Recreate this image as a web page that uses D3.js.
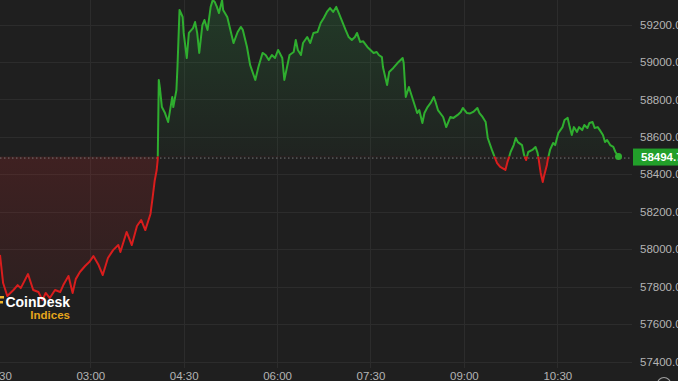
<!DOCTYPE html>
<html>
<head>
<meta charset="utf-8">
<script src="https://cdn.jsdelivr.net/npm/d3@7"></script>
<style>
  html, body { margin: 0; padding: 0; background: #1f1f1f; overflow: hidden; }
  svg { display: block; }
</style>
</head>
<body>
<svg id="chart"></svg>
<script>
// Configuration
const width = 678;
const height = 381;
const plotW = 632;

// Data (CoinDesk index, intraday)
const times = [
  "01:33","01:36","01:40","01:46","01:50","01:53","01:56","02:00","02:05","02:10",
  "02:14","02:17","02:21","02:26","02:31","02:34","02:39","02:43","02:46","02:50",
  "02:55","02:59","03:03","03:08","03:12","03:17","03:22","03:27","03:29","03:35",
  "03:40","03:45","03:49","03:53","03:58","04:00","04:02","04:04","04:05","04:06",
  "04:07","04:09","04:12","04:15","04:19","04:20","04:23","04:24","04:26","04:29",
  "04:30","04:33","04:35","04:39","04:41","04:43","04:45","04:48","04:50","04:53",
  "04:56","04:58","05:00","05:02","05:04","05:07","05:08","05:12","05:15","05:18",
  "05:22","05:25","05:27","05:31","05:34","05:39","05:42","05:46","05:49","05:52",
  "05:55","05:58","06:01","06:05","06:07","06:10","06:12","06:16","06:18","06:20",
  "06:23","06:25","06:29","06:32","06:35","06:39","06:42","06:45","06:48","06:51",
  "06:54","06:57","06:59","07:03","07:06","07:09","07:12","07:15","07:17","07:20",
  "07:23","07:27","07:30","07:33","07:36","07:38","07:41","07:42","07:46","07:48",
  "07:52","07:56","08:01","08:02","08:04","08:07","08:11","08:15","08:17","08:20",
  "08:22","08:25","08:28","08:31","08:33","08:35","08:40","08:43","08:47","08:50",
  "08:54","08:57","08:59","09:03","09:06","09:09","09:13","09:15","09:18","09:21",
  "09:23","09:27","09:30","09:32","09:35","09:40","09:42","09:43","09:45","09:48",
  "09:50","09:52","09:56","09:58","10:00","10:02","10:06","10:09","10:11","10:12",
  "10:14","10:16","10:17","10:20","10:21","10:23","10:26","10:28","10:31","10:35",
  "10:37","10:40","10:42","10:44","10:46","10:49","10:51","10:54","10:56","10:59",
  "11:01","11:04","11:06","11:09","11:11","11:14","11:16","11:18","11:21","11:24",
  "11:26","11:29"
];
const prices = [
  57969,57819,57750,57782,57808,57792,57824,57867,57782,57771,
  57728,57766,57739,57782,57771,57808,57857,57766,57840,57878,
  57910,57931,57963,57915,57862,57953,57995,58022,57985,58092,
  58022,58124,58156,58102,58188,58273,58364,58423,58480,58904,
  58866,58759,58727,58679,58813,58759,58850,58973,59278,59240,
  59155,59021,59155,59181,59213,59155,59048,59197,59224,59171,
  59294,59331,59320,59294,59261,59331,59278,59240,59171,59101,
  59160,59187,59171,59080,58984,58904,58973,59048,59037,59010,
  59037,59021,59064,59021,58904,58984,59037,59053,59117,59064,
  59037,59101,59133,59101,59155,59160,59208,59235,59267,59288,
  59267,59294,59267,59213,59171,59133,59117,59133,59155,59107,
  59110,59080,59064,59048,59053,59037,59026,58973,58877,58946,
  58968,58994,59021,58994,58813,58866,58797,58727,58743,58674,
  58727,58759,58781,58813,58781,58743,58706,58652,58706,58701,
  58717,58733,58754,58727,58725,58733,58754,58727,58706,58679,
  58594,58530,58487,58460,58439,58423,58466,58482,58519,58556,
  58594,58572,58556,58503,58476,58519,58530,58546,58514,58482,
  58407,58359,58385,58450,58482,58530,58567,58556,58620,58652,
  58690,58701,58652,58610,58652,58626,58652,58636,58663,58647,
  58674,58679,58647,58652,58636,58610,58572,58583,58556,58546,
  58519,58494.7
];
const baseValue = 58494.7;
const lastPrice = 58494.7;
const yTicks = [57400, 57600, 57800, 58000, 58200, 58400, 58600, 58800, 59000, 59200];
const xTicks = ["01:30", "03:00", "04:30", "06:00", "07:30", "09:00", "10:30"];
const xDomain = ["01:33", "11:42"];

const parseTime = d3.timeParse("%H:%M");
const data = times.map((t, i) => ({ t: parseTime(t), v: prices[i] }));

const svg = d3.select("#chart")
    .attr("width", width)
    .attr("height", height)
    .style("font-family", "'Liberation Sans', Arial, sans-serif");

svg.append("rect").attr("width", width).attr("height", height).attr("fill", "#1f1f1f");

// Scales
const x = d3.scaleTime().domain(xDomain.map(parseTime)).range([0, plotW]);
const y = d3.scaleLinear().domain([57400, 59200]).range([361.5, 24.5]);
const baseY = y(baseValue);

// Gridlines
svg.append("g").selectAll("line")
    .data(yTicks)
    .join("line")
    .attr("x1", 0).attr("x2", plotW)
    .attr("y1", d => Math.round(y(d)) + 0.5)
    .attr("y2", d => Math.round(y(d)) + 0.5)
    .attr("stroke", "#2c2c2c");

svg.append("g").selectAll("line")
    .data(xTicks)
    .join("line")
    .attr("x1", d => Math.round(x(parseTime(d))) + 0.5)
    .attr("x2", d => Math.round(x(parseTime(d))) + 0.5)
    .attr("y1", 0).attr("y2", 368)
    .attr("stroke", "#2c2c2c");

// Gradients + clips
const defs = svg.append("defs");

const gUp = defs.append("linearGradient").attr("id", "gUp")
    .attr("gradientUnits", "userSpaceOnUse")
    .attr("x1", 0).attr("y1", 0).attr("x2", 0).attr("y2", baseY);
gUp.append("stop").attr("offset", 0).attr("stop-color", "#2fa84a").attr("stop-opacity", 0.2);
gUp.append("stop").attr("offset", 1).attr("stop-color", "#2fa84a").attr("stop-opacity", 0.03);

const gDown = defs.append("linearGradient").attr("id", "gDown")
    .attr("gradientUnits", "userSpaceOnUse")
    .attr("x1", 0).attr("y1", baseY).attr("x2", 0).attr("y2", 320);
gDown.append("stop").attr("offset", 0).attr("stop-color", "#c0282b").attr("stop-opacity", 0.2);
gDown.append("stop").attr("offset", 1).attr("stop-color", "#c0282b").attr("stop-opacity", 0.07);

defs.append("clipPath").attr("id", "clipUp")
    .append("rect").attr("x", 0).attr("y", -5).attr("width", plotW).attr("height", baseY + 5);
defs.append("clipPath").attr("id", "clipDown")
    .append("rect").attr("x", 0).attr("y", baseY).attr("width", plotW).attr("height", height - baseY);

// Area + line
const area = d3.area()
    .x(d => x(d.t))
    .y0(baseY)
    .y1(d => y(d.v));

const line = d3.line()
    .x(d => x(d.t))
    .y(d => y(d.v));

svg.append("path").datum(data)
    .attr("clip-path", "url(#clipUp)")
    .attr("d", area).attr("fill", "url(#gUp)");
svg.append("path").datum(data)
    .attr("clip-path", "url(#clipDown)")
    .attr("d", area).attr("fill", "url(#gDown)");

// baseline (dotted)
svg.append("line")
    .attr("x1", 0).attr("x2", plotW)
    .attr("y1", baseY + 1.5).attr("y2", baseY + 1.5)
    .attr("stroke", "#8c8c8c")
    .attr("stroke-dasharray", "1.5,2.5")
    .attr("opacity", 0.8);

svg.append("path").datum(data)
    .attr("clip-path", "url(#clipUp)")
    .attr("d", line)
    .attr("fill", "none")
    .attr("stroke", "#2fae2f")
    .attr("stroke-width", 2)
    .attr("stroke-linejoin", "round");
svg.append("path").datum(data)
    .attr("clip-path", "url(#clipDown)")
    .attr("d", line)
    .attr("fill", "none")
    .attr("stroke", "#d91d1d")
    .attr("stroke-width", 2)
    .attr("stroke-linejoin", "round");

// last point marker
const last = data[data.length - 1];
svg.append("circle")
    .attr("cx", x(last.t)).attr("cy", y(last.v))
    .attr("r", 3.5).attr("fill", "#2fae2f");

// Y axis (right)
const yAxis = svg.append("g")
    .attr("transform", "translate(640,0)")
    .call(d3.axisRight(y).tickValues(yTicks).tickSize(0).tickPadding(0).tickFormat(d3.format(".2f")));
yAxis.select(".domain").remove();
yAxis.selectAll("text")
    .attr("fill", "#b4b4b4")
    .style("font-size", "11.5px")
    .style("font-family", "'Liberation Sans', Arial, sans-serif");

// X axis (bottom)
const xAxis = svg.append("g")
    .attr("transform", "translate(0,369)")
    .call(d3.axisBottom(x).tickValues(xTicks.map(parseTime)).tickSize(0).tickPadding(3)
        .tickFormat(d3.timeFormat("%H:%M")));
xAxis.select(".domain").remove();
xAxis.selectAll("text")
    .attr("fill", "#b4b4b4")
    .style("font-size", "11.5px")
    .style("font-family", "'Liberation Sans', Arial, sans-serif");

// last price label
const ly = y(lastPrice);
svg.append("rect")
    .attr("x", 633).attr("y", ly - 8).attr("width", 46).attr("height", 17)
    .attr("fill", "#229f2a");
svg.append("text")
    .attr("x", 641).attr("y", ly + 4.5)
    .attr("fill", "#ffffff")
    .style("font-size", "11.5px")
    .style("font-weight", "bold")
    .text(d3.format(".2f")(lastPrice));

// CoinDesk logo
svg.append("rect").attr("x", 0).attr("y", 296).attr("width", 4).attr("height", 2.5).attr("fill", "#f0b429");
svg.append("rect").attr("x", 0).attr("y", 301).attr("width", 3).attr("height", 2.5).attr("fill", "#f0b429");
svg.append("text")
    .attr("x", 70).attr("y", 307)
    .attr("text-anchor", "end")
    .attr("fill", "#ffffff")
    .style("font-size", "14px")
    .style("font-weight", "bold")
    .text("CoinDesk");
svg.append("text")
    .attr("x", 70).attr("y", 318.5)
    .attr("text-anchor", "end")
    .attr("fill", "#e6a61c")
    .style("font-size", "11.5px")
    .style("font-weight", "bold")
    .text("Indices");

// settings icon (bottom right, cut off)
svg.append("circle").attr("cx", 664).attr("cy", 384).attr("r", 6.5)
    .attr("fill", "none").attr("stroke", "#a0a0a0").attr("stroke-width", 1.2);
svg.append("circle").attr("cx", 664).attr("cy", 384).attr("r", 2.5)
    .attr("fill", "none").attr("stroke", "#a0a0a0").attr("stroke-width", 1.2);
</script>
</body>
</html>
